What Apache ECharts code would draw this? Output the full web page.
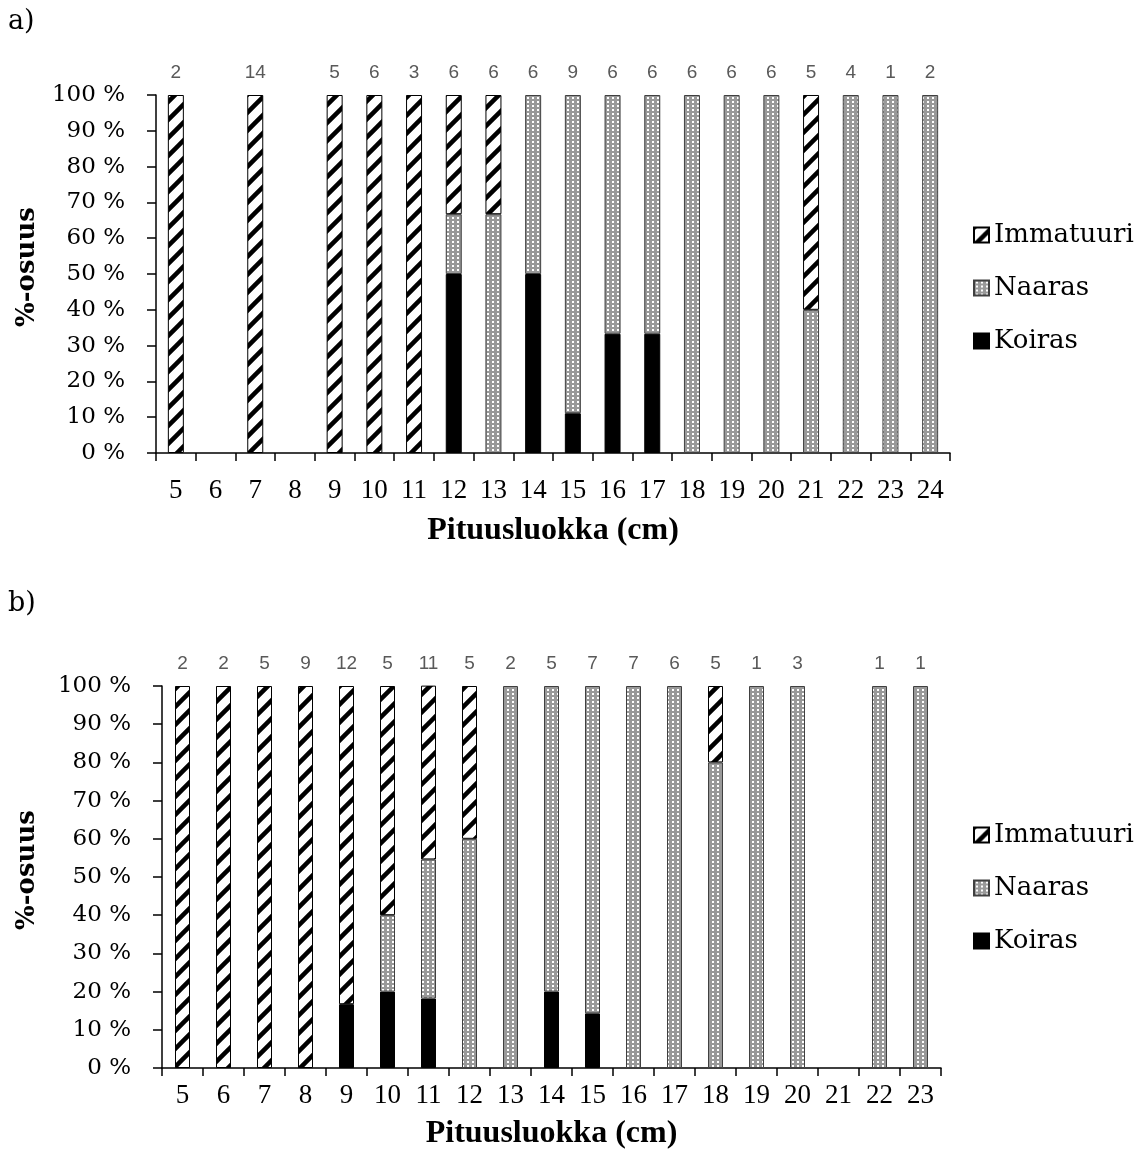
<!DOCTYPE html>
<html>
<head>
<meta charset="utf-8">
<script src="https://cdn.jsdelivr.net/npm/echarts@6/dist/echarts.min.js"></script>
<style>
html,body{margin:0;padding:0;background:#fff;}
#chart{width:1143px;height:1166px;}
</style>
</head>
<body>
<div id="chart"></div>
<script>
// ---- Data: chart a) ----
const catsA = ['5','6','7','8','9','10','11','12','13','14','15','16','17','18','19','20','21','22','23','24'];
const koirasA = [null,null,null,null,null,null,null,50,null,50,11.1,33.3,33.3,null,null,null,null,null,null,null];
const naarasA = [null,null,null,null,null,null,null,16.7,66.7,50,88.9,66.7,66.7,100,100,100,40,100,100,100];
const immA    = [100,null,100,null,100,100,100,33.3,33.3,null,null,null,null,null,null,null,60,null,null,null];
const countsA = ['2','','14','','5','6','3','6','6','6','9','6','6','6','6','6','5','4','1','2'];

// ---- Data: chart b) ----
const catsB = ['5','6','7','8','9','10','11','12','13','14','15','16','17','18','19','20','21','22','23'];
const koirasB = [null,null,null,null,16.7,20,18.2,null,null,20,14.3,null,null,null,null,null,null,null,null];
const naarasB = [null,null,null,null,null,20,36.4,60,100,80,85.7,100,100,80,100,100,null,100,100];
const immB    = [100,100,100,100,83.3,60,45.5,40,null,null,null,null,null,20,null,null,null,null,null];
const countsB = ['2','2','5','9','12','5','11','5','2','5','7','7','6','5','1','3','','1','1'];

const yTicks = [0,10,20,30,40,50,60,70,80,90,100];

// ---- Patterns ----
function hatchCanvas(){
  const s = 18, c = document.createElement('canvas');
  c.width = s; c.height = s;
  const g = c.getContext('2d');
  g.fillStyle = '#fff'; g.fillRect(0,0,s,s);
  g.strokeStyle = '#000'; g.lineWidth = 4.5;
  g.beginPath();
  g.moveTo(-4, s+4); g.lineTo(s+4, -4);
  g.moveTo(-4, 4); g.lineTo(4, -4);
  g.moveTo(s-4, s+4); g.lineTo(s+4, s-4);
  g.stroke();
  return c;
}
function dotCanvas(){
  const c = document.createElement('canvas');
  c.width = 5; c.height = 4;
  const g = c.getContext('2d');
  g.fillStyle = '#999999'; g.fillRect(0,0,5,4);
  g.fillStyle = '#ffffff'; g.fillRect(2,1,2,2);
  return c;
}
const hatchFill = {image: hatchCanvas(), repeat: 'repeat'};
const dotFill = {image: dotCanvas(), repeat: 'repeat'};

const styles = {
  Koiras: {color: '#000', borderColor: '#000', borderWidth: 1},
  Naaras: {color: dotFill, borderColor: '#404040', borderWidth: 1},
  Immatuuri: {color: hatchFill, borderColor: '#000', borderWidth: 1}
};

const serif = 'DejaVu Serif';
const serif2 = 'Liberation Serif';

function bottomX(cats, gi, margin, nameGap){
  return {
    type: 'category', data: cats, gridIndex: gi, position: 'bottom',
    axisLine: {show: true, lineStyle: {color: '#000', width: 1.5}},
    axisTick: {show: true, length: 8, interval: 0, lineStyle: {color: '#000', width: 1.5}},
    axisLabel: {interval: 0, margin: margin, color: '#000', fontFamily: serif2, fontSize: 27},
    name: 'Pituusluokka (cm)', nameLocation: 'middle', nameGap: nameGap,
    nameTextStyle: {fontFamily: serif2, fontWeight: 'bold', fontSize: 32, color: '#000'}
  };
}
function topX(cats, counts, gi){
  return {
    type: 'category', data: cats, gridIndex: gi, position: 'top',
    axisLine: {show: false}, axisTick: {show: false},
    axisLabel: {interval: 0, margin: 13, color: '#595959', fontFamily: 'Liberation Sans', fontSize: 19,
      formatter: function(v, i){ return counts[i]; }}
  };
}
function leftY(gi){
  return {
    type: 'value', gridIndex: gi, min: 0, max: 100, interval: 10,
    splitLine: {show: false},
    axisLine: {show: true, lineStyle: {color: '#000', width: 1.5}},
    axisTick: {show: true, length: 9, lineStyle: {color: '#000', width: 1.5}},
    axisLabel: {margin: 31, color: '#000', fontFamily: serif, fontSize: 23,
      formatter: function(v){ return yTicks.indexOf(v) >= 0 ? v + ' %' : ''; }}
  };
}
function barSeries(name, data, xi, yi, bw){
  return {
    name: name, type: 'bar', stack: 's' + yi, data: data,
    xAxisIndex: xi, yAxisIndex: yi, barWidth: bw,
    itemStyle: styles[name], emphasis: {disabled: true}
  };
}
function legend(top){
  return {
    orient: 'vertical', left: 968, top: top, itemWidth: 15, itemHeight: 15, itemGap: 23,
    icon: 'rect', selectedMode: false,
    data: ['Immatuuri','Naaras','Koiras'],
    textStyle: {fontFamily: serif, fontSize: 26, color: '#000', lineHeight: 30}
  };
}

const option = {
  animation: false,
  backgroundColor: '#fff',
  grid: [
    {left: 156, top: 95, width: 794, height: 358},
    {left: 162, top: 686, width: 779, height: 382}
  ],
  xAxis: [bottomX(catsA, 0, 24, 62), topX(catsA, countsA, 0), bottomX(catsB, 1, 14, 50), topX(catsB, countsB, 1)],
  yAxis: [leftY(0), leftY(1)],
  legend: [legend(215), legend(815)],
  series: [
    barSeries('Koiras', koirasA, 0, 0, 16),
    barSeries('Naaras', naarasA, 0, 0, 16),
    barSeries('Immatuuri', immA, 0, 0, 16),
    barSeries('Koiras', koirasB, 2, 1, 15),
    barSeries('Naaras', naarasB, 2, 1, 15),
    barSeries('Immatuuri', immB, 2, 1, 15)
  ],
  graphic: [
    {type: 'text', left: 8, top: 8, style: {text: 'a)', fontFamily: serif, fontSize: 27, fill: '#000'}},
    {type: 'text', left: 8, top: 590, style: {text: 'b)', fontFamily: serif, fontSize: 27, fill: '#000'}},
    {type: 'text', x: 27, y: 267, rotation: Math.PI/2,
      style: {text: '%-osuus', fontFamily: serif, fontWeight: 'bold', fontSize: 26, fill: '#000', align: 'center', verticalAlign: 'middle'}},
    {type: 'text', x: 27, y: 870, rotation: Math.PI/2,
      style: {text: '%-osuus', fontFamily: serif, fontWeight: 'bold', fontSize: 26, fill: '#000', align: 'center', verticalAlign: 'middle'}}
  ]
};

const chart = echarts.init(document.getElementById('chart'), null, {renderer: 'canvas'});
chart.setOption(option);
</script>
</body>
</html>
